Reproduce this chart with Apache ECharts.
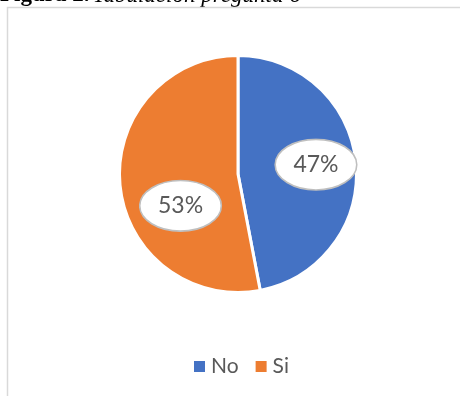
<!DOCTYPE html>
<html>
<head>
<meta charset="utf-8">
<style>
  html, body { margin: 0; padding: 0; background: #ffffff; }
  #chart { width: 460px; height: 396px; }
</style>
<script src="https://cdn.jsdelivr.net/npm/echarts@6/dist/echarts.min.js"></script>
</head>
<body>
<div id="chart"></div>
<script>
// Survey answers for question 6 (percent of respondents)
const categories = ['No', 'Si'];
const percentages = [47, 53];
const sliceColors = ['#4472C4', '#ED7D31'];

// Oval callout drawn behind each percentage label
const calloutW = 84, calloutH = 53;
const calloutSvg =
  "<svg xmlns='http://www.w3.org/2000/svg' width='" + calloutW + "' height='" + calloutH + "'>" +
  "<ellipse cx='" + (calloutW / 2) + "' cy='" + (calloutH / 2) + "' rx='" + (calloutW / 2 - 1.2) +
  "' ry='" + (calloutH / 2 - 1.2) + "' fill='#ffffff' stroke='#bfbfbf' stroke-width='1.6'/></svg>";
const calloutUrl = 'data:image/svg+xml;charset=utf-8,' + encodeURIComponent(calloutSvg);

// Per-slice nudges of the callouts away from the default inside position
const labelShift = [[16, -3.5], [4.5, 26]];

const chart = echarts.init(document.getElementById('chart'), null, { renderer: 'canvas' });

chart.setOption({
  animation: false,
  backgroundColor: '#ffffff',
  graphic: [
    {
      type: 'text',
      left: 0,
      top: -16,
      style: {
        text: '{b|Figura 2.} {i|Tabulación pregunta 6}',
        rich: {
          b: { fontFamily: 'Liberation Serif', fontWeight: 'bold', fontSize: 23, fill: '#000000' },
          i: { fontFamily: 'Liberation Serif', fontStyle: 'italic', fontSize: 23, fill: '#000000' }
        }
      }
    },
    {
      type: 'rect',
      shape: { x: 7.5, y: 7.5, width: 470, height: 400 },
      style: { fill: 'none', stroke: '#d9d9d9', lineWidth: 1.5 },
      silent: true
    }
  ],
  legend: {
    data: categories,
    left: 187,
    top: 351,
    icon: 'rect',
    itemWidth: 13,
    itemHeight: 13,
    itemGap: 15,
    textStyle: { fontFamily: 'Lato', fontSize: 21, color: '#595959' }
  },
  series: [
    {
      type: 'pie',
      center: [238, 174],
      radius: [0, 118.5],
      startAngle: 90,
      clockwise: true,
      itemStyle: { borderColor: '#ffffff', borderWidth: 3 },
      label: {
        show: true,
        position: 'inside',
        formatter: '{c}%',
        fontFamily: 'Lato',
        fontSize: 23,
        color: '#595959',
        width: calloutW,
        height: calloutH,
        lineHeight: calloutH,
        align: 'center',
        padding: 0,
        backgroundColor: { image: calloutUrl }
      },
      labelLine: { show: false },
      labelLayout: function (params) {
        const s = labelShift[params.dataIndex];
        return { dx: s[0], dy: s[1] };
      },
      emphasis: { disabled: true },
      data: categories.map(function (name, i) {
        return { name: name, value: percentages[i], itemStyle: { color: sliceColors[i] } };
      })
    }
  ]
});
</script>
</body>
</html>
